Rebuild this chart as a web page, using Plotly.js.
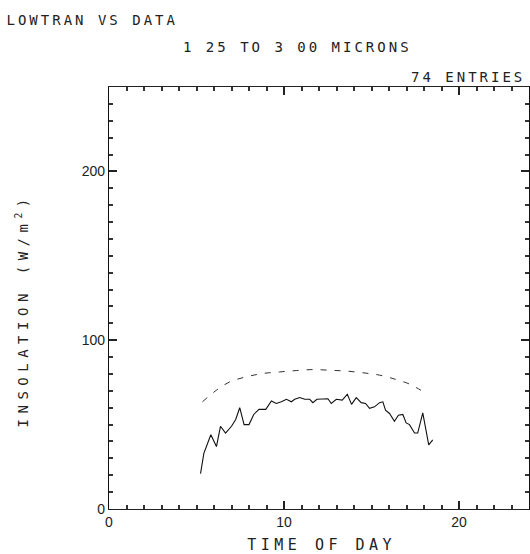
<!DOCTYPE html>
<html>
<head>
<meta charset="utf-8">
<script src="https://cdn.plot.ly/plotly-3.0.1.min.js"></script>
<style>
html,body{margin:0;padding:0;background:#fff;}
</style>
</head>
<body>
<div id="chart"></div>
<script>
// Measured data (solid line)
var dataTime = [5.23, 5.42, 5.82, 6.14, 6.37, 6.66, 7.0, 7.24, 7.47, 7.72, 8.0, 8.27, 8.57, 8.96, 9.28, 9.56, 9.85, 10.14, 10.42, 10.61, 10.9, 11.18, 11.47, 11.65, 11.88, 12.22, 12.51, 12.7, 12.99, 13.33, 13.62, 13.86, 14.13, 14.41, 14.66, 14.89, 15.17, 15.46, 15.65, 15.8, 16.03, 16.31, 16.54, 16.79, 16.98, 17.17, 17.46, 17.64, 17.93, 18.27, 18.5];
var dataVal = [21, 33, 44, 37, 49, 45, 49, 53, 60, 50, 50, 56, 59, 59, 64, 62.5, 63.5, 65, 63.5, 65, 66, 65, 65, 63, 65, 65, 65.3, 62.5, 65, 64.5, 68, 62, 66, 63, 62.5, 59.6, 60.5, 63, 63.5, 58.6, 56.6, 52, 55.6, 56, 51, 50, 45, 45, 57, 38, 41];
// LOWTRAN model (dashed line)
var lowTime = [5.34, 6.14, 6.9, 7.85, 8.8, 9.75, 10.7, 11.65, 12.6, 13.56, 14.51, 15.46, 16.41, 17.17, 18.12];
var lowVal = [63.5, 70.4, 75.3, 78.3, 80.3, 81.2, 82, 82.6, 82.2, 81.7, 80.7, 79.3, 76.7, 74, 68.5];
// Tick labels (major ticks)
var xTicks = [0, 10, 20];
var yTicks = [0, 100, 200];

var traces = [
  {x: lowTime, y: lowVal, type: 'scatter', mode: 'lines',
   line: {color: '#333', width: 1, dash: '6px,8px', shape: 'spline'}},
  {x: dataTime, y: dataVal, type: 'scatter', mode: 'lines',
   line: {color: '#111', width: 1.1}}
];

var tickFont = {family: 'Liberation Sans, Arial, sans-serif', size: 14, color: '#222'};
var txtFont = {family: 'DejaVu Sans Mono, monospace', size: 14, color: '#222'};

var layout = {
  width: 530, height: 554,
  margin: {l: 109, r: 1, t: 87, b: 45},
  showlegend: false,
  xaxis: {
    range: [0, 24], dtick: xTicks[1] - xTicks[0],
    ticks: 'inside', ticklen: 8, tickwidth: 1.5, tickcolor: '#222',
    minor: {dtick: 1, ticks: 'inside', ticklen: 4, tickwidth: 1.5, tickcolor: '#333'},
    showline: true, linecolor: '#222', mirror: 'ticks',
    showgrid: false, zeroline: false, tickfont: tickFont
  },
  yaxis: {
    range: [0, 250], dtick: yTicks[1] - yTicks[0],
    ticks: 'inside', ticklen: 8, tickwidth: 1.5, tickcolor: '#222',
    minor: {dtick: 10, ticks: 'inside', ticklen: 4, tickwidth: 1.5, tickcolor: '#333'},
    showline: true, linecolor: '#111', linewidth: 1.3, mirror: 'ticks',
    showgrid: false, zeroline: false, tickfont: tickFont
  },
  annotations: [
    {text: 'LOWTRAN VS DATA', xref: 'paper', yref: 'paper', x: -0.0381, y: 1.1588,
     xanchor: 'center', yanchor: 'middle', showarrow: false, font: txtFont},
    {text: '1 25 TO 3 00 MICRONS', xref: 'paper', yref: 'paper', x: 0.4488, y: 1.0948,
     xanchor: 'center', yanchor: 'middle', showarrow: false, font: txtFont},
    {text: '74 ENTRIES', xref: 'paper', yref: 'paper', x: 0.8548, y: 1.0237,
     xanchor: 'center', yanchor: 'middle', showarrow: false, font: txtFont},
    {text: 'TIME OF DAY', xref: 'paper', yref: 'paper', x: 0.505, y: -0.0853,
     xanchor: 'center', yanchor: 'middle', showarrow: false,
     font: {family: 'DejaVu Sans Mono, monospace', size: 15, color: '#222'}},
    {text: 'INSOLATION (W/m<sup>2</sup>)', xref: 'paper', yref: 'paper', x: -0.207, y: 0.47,
     xanchor: 'center', yanchor: 'middle', showarrow: false, textangle: -90,
     font: {family: 'DejaVu Sans Mono, monospace', size: 14, color: '#222'}}
  ]
};

var spacing = ['3px', '3px', '3px', '4.5px', '5.5px'];
Plotly.newPlot('chart', traces, layout, {displayModeBar: false}).then(function () {
  var nodes = document.querySelectorAll('.annotation-text');
  nodes.forEach(function (n, i) {
    if (spacing[i]) n.style.letterSpacing = spacing[i];
  });
});
</script>
</body>
</html>
